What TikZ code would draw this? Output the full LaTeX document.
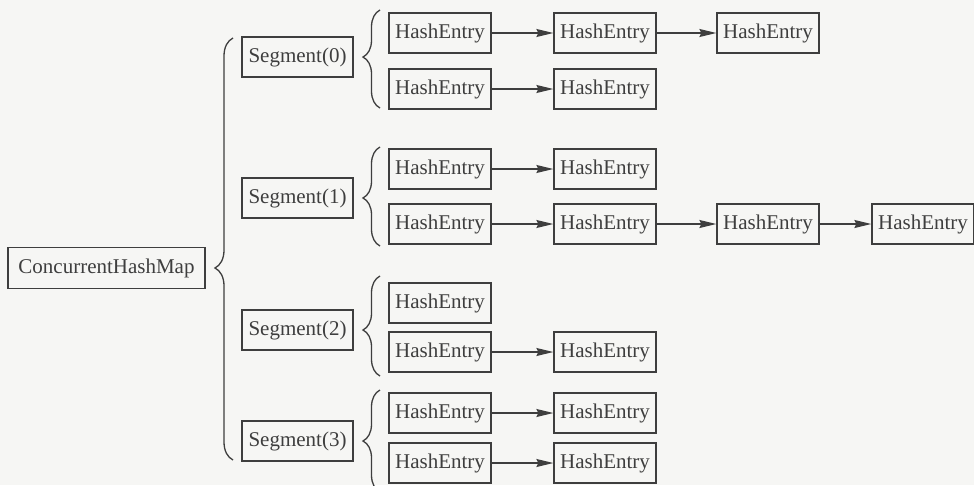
\documentclass[tikz,border=0pt]{standalone}
\usepackage{fontspec}
\setmainfont{Liberation Serif}
\usetikzlibrary{arrows.meta,decorations.pathreplacing}

\definecolor{ink}{RGB}{62,62,62}
\definecolor{paper}{RGB}{246,246,244}

\tikzset{
  box/.style={draw=ink, line width=1.3pt, text=ink, inner sep=0pt,
              minimum height=40pt, font=\fontsize{21}{24}\selectfont},
  entry/.style={box, minimum width=102pt},
  segbox/.style={box, minimum width=111pt},
  mapbox/.style={box, minimum width=197pt, minimum height=41pt},
  arr/.style={draw=ink, line width=1.3pt,
              -{Stealth[length=17pt,width=8pt,inset=2pt]}},
  curly/.style={draw=ink, line width=1.3pt, decorate,
                decoration={brace, amplitude=#1}},
}

\begin{document}
\begin{tikzpicture}[x=1pt,y=-1pt]
  \fill[paper] (0,0) rectangle (974,485);
  \useasboundingbox (0,0) rectangle (974,485);
  \clip (0,0) rectangle (974,485);

  % root map
  \node[mapbox] (map) at (106.5,268) {ConcurrentHashMap};

  % segments
  \node[segbox] (s0) at (297.5,57)  {Segment(0)};
  \node[segbox] (s1) at (297.5,198) {Segment(1)};
  \node[segbox] (s2) at (297.5,330) {Segment(2)};
  \node[segbox] (s3) at (297.5,441) {Segment(3)};

  % hash entry chains
  \node[entry] (e00a) at (440,33) {HashEntry};
  \node[entry] (e00b) at (605,33) {HashEntry};
  \node[entry] (e00c) at (768,33) {HashEntry};
  \node[entry] (e01a) at (440,89) {HashEntry};
  \node[entry] (e01b) at (605,89) {HashEntry};

  \node[entry] (e10a) at (440,169) {HashEntry};
  \node[entry] (e10b) at (605,169) {HashEntry};
  \node[entry] (e11a) at (440,224) {HashEntry};
  \node[entry] (e11b) at (605,224) {HashEntry};
  \node[entry] (e11c) at (768,224) {HashEntry};
  \node[entry] (e11d) at (923,224) {HashEntry};

  \node[entry] (e20a) at (440,303) {HashEntry};
  \node[entry] (e21a) at (440,352) {HashEntry};
  \node[entry] (e21b) at (605,352) {HashEntry};

  \node[entry] (e30a) at (440,413) {HashEntry};
  \node[entry] (e30b) at (605,413) {HashEntry};
  \node[entry] (e31a) at (440,463) {HashEntry};
  \node[entry] (e31b) at (605,463) {HashEntry};

  % links
  \draw[arr] (e00a.east) -- (e00b.west);
  \draw[arr] (e00b.east) -- (e00c.west);
  \draw[arr] (e01a.east) -- (e01b.west);
  \draw[arr] (e10a.east) -- (e10b.west);
  \draw[arr] (e11a.east) -- (e11b.west);
  \draw[arr] (e11b.east) -- (e11c.west);
  \draw[arr] (e11c.east) -- (e11d.west);
  \draw[arr] (e21a.east) -- (e21b.west);
  \draw[arr] (e30a.east) -- (e30b.west);
  \draw[arr] (e31a.east) -- (e31b.west);

  % braces
  \draw[curly=18pt, decoration={aspect=0.455}] (233,460) -- (233,38);
  \draw[curly=17pt, decoration={aspect=0.52}]  (380,108) -- (380,10);
  \draw[curly=17pt, decoration={aspect=0.485}] (380,246) -- (380,147);
  \draw[curly=17pt, decoration={aspect=0.46}]  (380,376) -- (380,276);
  \draw[curly=17pt, decoration={aspect=0.5}]   (380,492) -- (380,390);
\end{tikzpicture}
\end{document}
